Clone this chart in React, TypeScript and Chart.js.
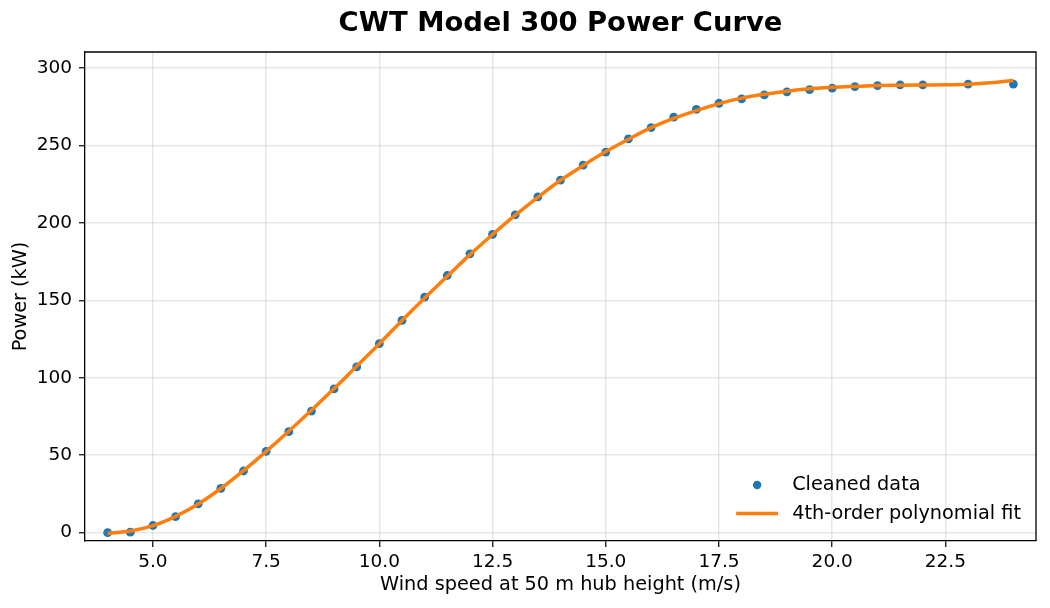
import React, { useEffect, useRef } from "react";
import { Chart, registerables } from "chart.js";

Chart.register(...registerables);

// Measured wind speed (m/s) and power output (kW) after cleaning
const windSpeed = [
  4, 4.5, 5, 5.5, 6, 6.5, 7, 7.5, 8, 8.5, 9, 9.5, 10, 10.5, 11, 11.5, 12, 12.5,
  13, 13.5, 14, 14.5, 15, 15.5, 16, 16.5, 17, 17.5, 18, 18.5, 19, 19.5, 20,
  20.5, 21, 21.5, 22, 23, 24,
];
const power = [
  0, 0.3, 4.6, 10.4, 18.6, 28.6, 39.8, 52.5, 65.2, 78.5, 92.8, 107, 122, 137,
  152, 166, 180, 192.6, 205.2, 216.8, 227.6, 237.3, 245.7, 254.2, 261.5, 268.2,
  273.2, 277.2, 280.1, 282.6, 284.6, 286.0, 287.0, 288.0, 288.6, 289.1, 289.1,
  289.6, 289.6,
];

// 4th-order polynomial fit evaluated along the wind-speed range
const fitSpeed = [
  4, 4.5, 5, 5.5, 6, 6.5, 7, 7.5, 8, 8.5, 9, 9.5, 10, 10.5, 11, 11.5, 12, 12.5,
  13, 13.5, 14, 14.5, 15, 15.5, 16, 16.5, 17, 17.5, 18, 18.5, 19, 19.5, 20,
  20.5, 21, 21.5, 22, 22.5, 23, 23.5, 24,
];
const fitPower = [
  -0.5, 1.0, 4.5, 10.5, 18.5, 28.5, 40, 52.5, 65.5, 79, 93, 107.5, 122, 137,
  151.5, 165.5, 179.5, 192.5, 205, 216.5, 227.5, 237, 246, 254, 261.5, 267.5,
  272.5, 277, 280.5, 283, 285, 286.5, 287.5, 288.1, 288.6, 288.9, 289.0, 289.1,
  289.5, 290.4, 291.9,
];

const xTickStep = 2.5;
const yTickStep = 50;

const titleText = "CWT Model 300 Power Curve";
const xTitle = "Wind speed at 50 m hub height (m/s)";
const yTitle = "Power (kW)";
const scatterLabel = "Cleaned data";
const fitLabel = "4th-order polynomial fit";

const BLUE = "#1f77b4";
const ORANGE = "#ff7f0e";
const FONT = "'DejaVu Sans', sans-serif";
const GRID = "rgba(176,176,176,0.3)";
const TICK_SIZE = 18.5;
const LABEL_SIZE = 19.3;

// Title centred over the plot area
const axesTitle = {
  id: "axesTitle",
  afterDraw(chart: any) {
    const { ctx, chartArea } = chart;
    ctx.save();
    ctx.font = `bold 27.4px ${FONT}`;
    ctx.fillStyle = "#000";
    ctx.textAlign = "center";
    ctx.textBaseline = "middle";
    ctx.fillText(titleText, (chartArea.left + chartArea.right) / 2, 23.5);
    ctx.restore();
  },
};

// Frameless legend in the lower-right corner of the plot area
const cornerLegend = {
  id: "cornerLegend",
  afterDraw(chart: any) {
    const { ctx, chartArea } = chart;
    const items = [
      { label: scatterLabel, kind: "point", color: BLUE },
      { label: fitLabel, kind: "line", color: ORANGE },
    ];
    ctx.save();
    ctx.font = `${LABEL_SIZE}px ${FONT}`;
    const textW = Math.max(...items.map((i) => ctx.measureText(i.label).width));
    const textX = chartArea.right - 15 - textW;
    const handleEnd = textX - 14;
    const handleStart = handleEnd - 42;
    const rowH = 28.5;
    const lastY = chartArea.bottom - 27.5;
    items.forEach((it, idx) => {
      const y = lastY - (items.length - 1 - idx) * rowH;
      if (it.kind === "point") {
        ctx.fillStyle = it.color;
        ctx.beginPath();
        ctx.arc((handleStart + handleEnd) / 2, y, 4.2, 0, Math.PI * 2);
        ctx.fill();
      } else {
        ctx.strokeStyle = it.color;
        ctx.lineWidth = 3.5;
        ctx.beginPath();
        ctx.moveTo(handleStart, y);
        ctx.lineTo(handleEnd, y);
        ctx.stroke();
      }
      ctx.fillStyle = "#000";
      ctx.textAlign = "left";
      ctx.textBaseline = "middle";
      ctx.fillText(it.label, textX, y);
    });
    ctx.restore();
  },
};

// Closes the axes box on the top and right sides
const axesFrame = {
  id: "axesFrame",
  afterDraw(c: any) {
    const { ctx, chartArea: a } = c;
    ctx.save();
    ctx.strokeStyle = "#000";
    ctx.lineWidth = 1.3;
    ctx.beginPath();
    ctx.moveTo(a.left, a.top);
    ctx.lineTo(a.right, a.top);
    ctx.lineTo(a.right, a.bottom);
    ctx.stroke();
    ctx.restore();
  },
};

export default function App() {
  const canvasRef = useRef<HTMLCanvasElement>(null);

  useEffect(() => {
    document.body.style.margin = "0";
    const canvas = canvasRef.current;
    if (!canvas) return;

    const chart = new Chart(canvas, {
      type: "scatter",
      data: {
        datasets: [
          {
            label: fitLabel,
            data: fitSpeed.map((x, i) => ({ x, y: fitPower[i] })),
            showLine: true,
            borderColor: ORANGE,
            backgroundColor: ORANGE,
            borderWidth: 3.5,
            pointRadius: 0,
            cubicInterpolationMode: "monotone",
            order: 1,
          },
          {
            label: scatterLabel,
            data: windSpeed.map((x, i) => ({ x, y: power[i] })),
            showLine: false,
            backgroundColor: BLUE,
            borderColor: BLUE,
            borderWidth: 0,
            pointRadius: 4.4,
            order: 2,
          },
        ],
      },
      options: {
        animation: false,
        responsive: true,
        maintainAspectRatio: false,
        layout: { padding: { left: 0, right: 14, top: 52, bottom: 0 } },
        plugins: {
          legend: { display: false },
          tooltip: { enabled: false },
          title: { display: false },
        },
        scales: {
          x: {
            type: "linear",
            min: 3.5,
            max: 24.5,
            afterFit(scale: any) {
              scale.height = 67;
            },
            ticks: {
              stepSize: xTickStep,
              includeBounds: false,
              color: "#000",
              padding: 4,
              font: { family: FONT, size: TICK_SIZE },
              maxRotation: 0,
              callback: (v: any) => Number(v).toFixed(1),
            },
            grid: {
              color: GRID,
              lineWidth: 1.5,
              tickColor: "#000",
              tickLength: 6,
              tickWidth: 1.2,
            },
            border: { color: "#000", width: 1.3 },
            title: {
              display: true,
              text: xTitle,
              color: "#000",
              font: { family: FONT, size: LABEL_SIZE },
              padding: { top: 0, bottom: 11 },
            },
          },
          y: {
            type: "linear",
            min: -5.4,
            max: 310.3,
            afterFit(scale: any) {
              scale.width = 85;
            },
            ticks: {
              stepSize: yTickStep,
              includeBounds: false,
              color: "#000",
              padding: 7,
              font: { family: FONT, size: TICK_SIZE },
            },
            grid: {
              color: GRID,
              lineWidth: 1.5,
              tickColor: "#000",
              tickLength: 6,
              tickWidth: 1.2,
            },
            border: { color: "#000", width: 1.3 },
            title: {
              display: true,
              text: yTitle,
              color: "#000",
              font: { family: FONT, size: LABEL_SIZE },
              padding: { top: 9, bottom: 0 },
            },
          },
        },
      },
      plugins: [axesTitle, cornerLegend, axesFrame],
    } as any);

    return () => chart.destroy();
  }, []);

  return (
    <div style={{ position: "relative", width: 1050, height: 608, background: "#fff" }}>
      <canvas ref={canvasRef} />
    </div>
  );
}
